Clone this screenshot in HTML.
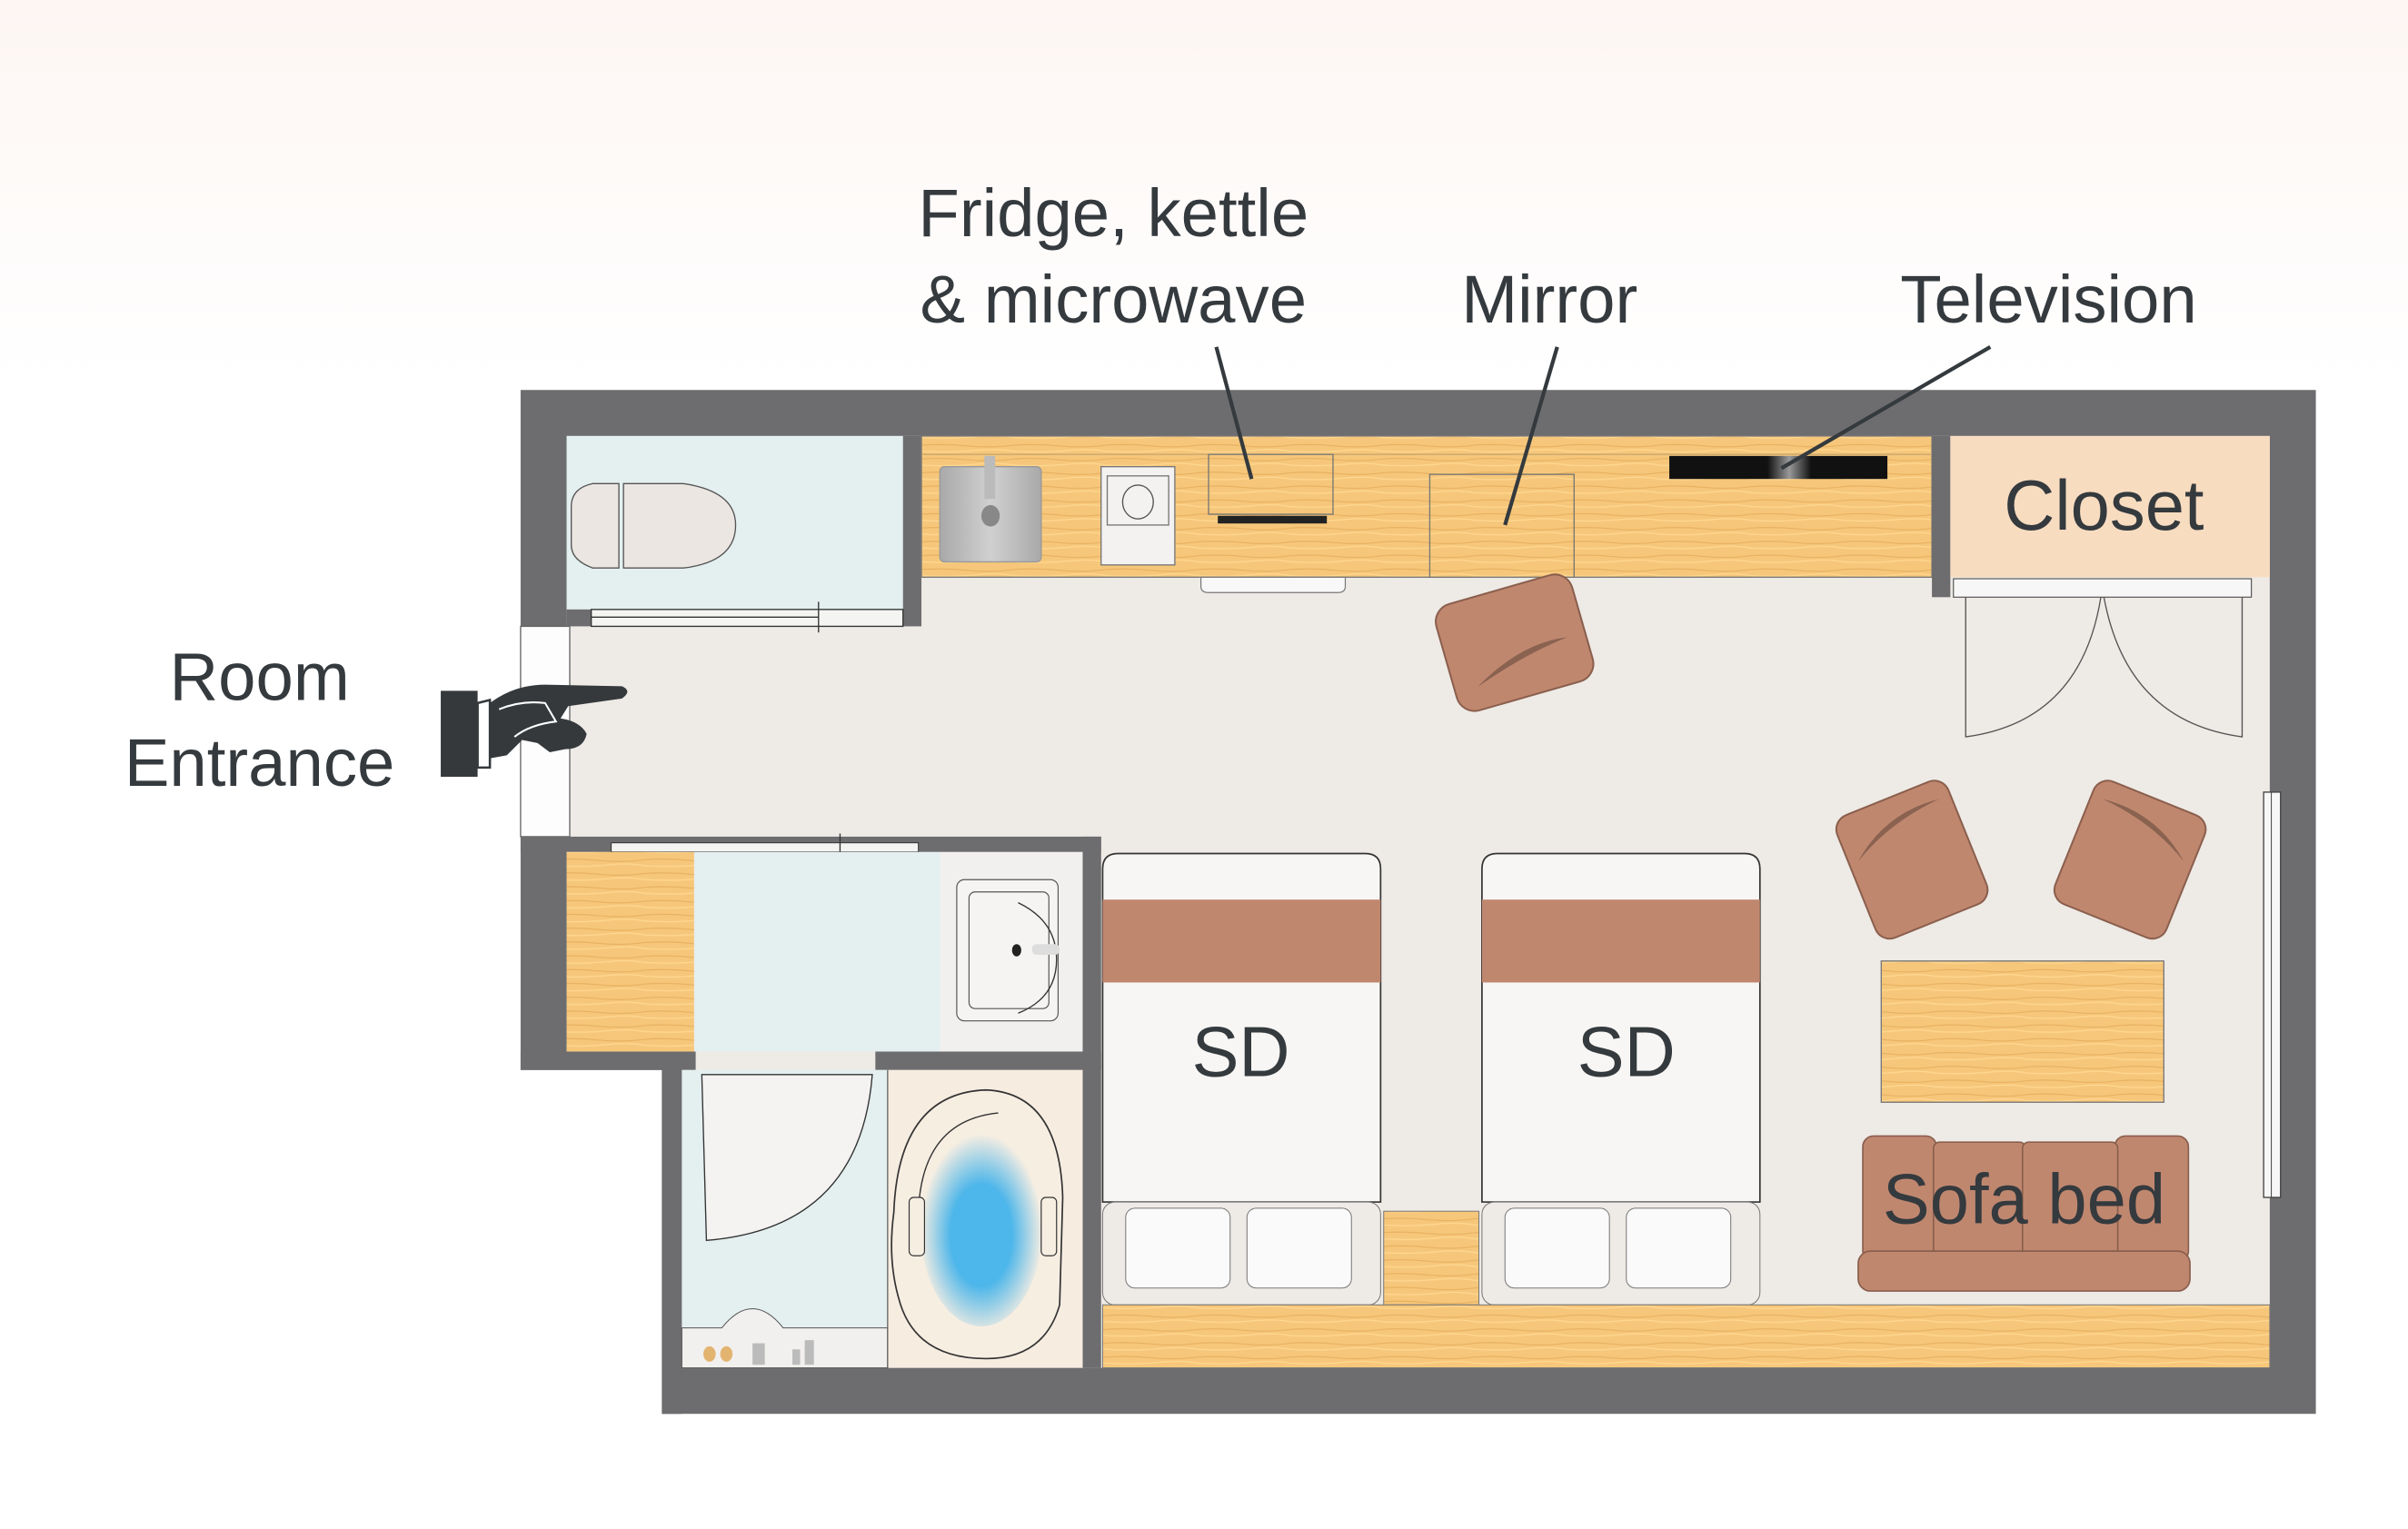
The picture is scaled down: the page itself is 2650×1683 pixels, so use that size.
<!DOCTYPE html>
<html><head><meta charset="utf-8"><style>
html,body{margin:0;padding:0;background:#fff;}
svg{display:block}
text{font-family:"Liberation Sans",sans-serif;fill:#343a3e}
</style></head><body>
<svg width="2650" height="1683" viewBox="0 0 1568 996" preserveAspectRatio="none" xmlns="http://www.w3.org/2000/svg">
<defs>
<linearGradient id="bg" x1="0" y1="0" x2="0" y2="1"><stop offset="0" stop-color="#fdf6f3"/><stop offset="0.25" stop-color="#ffffff"/><stop offset="1" stop-color="#ffffff"/></linearGradient>
<pattern id="wood" width="60" height="9" patternUnits="userSpaceOnUse">
<rect width="60" height="9" fill="#f6c77a"/>
<path d="M0 2 Q15 1 30 2.5 T60 2" stroke="#e8b060" stroke-width="0.7" fill="none"/>
<path d="M0 6 Q20 7 35 5.5 T60 6" stroke="#ffd791" stroke-width="0.8" fill="none"/>
</pattern>
<radialGradient id="water" cx="0.5" cy="0.55" r="0.5"><stop offset="0.5" stop-color="#4db6ea"/><stop offset="1" stop-color="#4db6ea" stop-opacity="0"/></radialGradient>
<linearGradient id="tv" x1="0" x2="1"><stop offset="0" stop-color="#111"/><stop offset="0.45" stop-color="#111"/><stop offset="0.55" stop-color="#999"/><stop offset="0.65" stop-color="#111"/><stop offset="1" stop-color="#111"/></linearGradient>
<linearGradient id="sink" x1="0" x2="1"><stop offset="0" stop-color="#a9a9a9"/><stop offset="0.5" stop-color="#d0d0d0"/><stop offset="1" stop-color="#a9a9a9"/></linearGradient>
</defs>
<rect width="1568" height="996" fill="url(#bg)"/>

<!-- walls -->
<path d="M339 254 H1508 V921 H431 V697 H339 Z" fill="#6d6d6f"/>
<!-- floor -->
<path d="M369 284 H1478 V891 H444 V685 H369 Z" fill="#eeeae6"/>
<!-- entrance gap -->
<rect x="339" y="408" width="32" height="137" fill="#fdfdfd" stroke="#666" stroke-width="0.8"/>

<!-- toilet room -->
<rect x="369" y="284" width="219" height="113" fill="#e4eff0"/>
<rect x="588" y="284" width="12" height="124" fill="#6d6d6f"/>
<rect x="369" y="397" width="16" height="11" fill="#6d6d6f"/>
<rect x="385" y="397" width="203" height="11" fill="#f4f4f2" stroke="#333" stroke-width="0.8"/>
<line x1="385" y1="402" x2="533" y2="402" stroke="#333" stroke-width="0.8"/>
<line x1="533" y1="392" x2="533" y2="412" stroke="#333" stroke-width="0.8"/>
<path d="M386 315 H403 V370 H386 Q372 365 372 355 V330 Q372 318 386 315Z" fill="#ece6e2" stroke="#555" stroke-width="0.8"/>
<path d="M406 315 H445 Q479 320 479 342 Q479 366 445 370 H406Z" fill="#ece6e2" stroke="#555" stroke-width="0.8"/>

<!-- kitchen counter -->
<rect x="600" y="284" width="658" height="92" fill="url(#wood)" stroke="#777" stroke-width="0.8"/>
<line x1="600" y1="296" x2="1258" y2="296" stroke="#b89a6a" stroke-width="0.6"/>
<rect x="612" y="304" width="66" height="62" rx="3" fill="url(#sink)" stroke="#999" stroke-width="0.8"/>
<rect x="641" y="297" width="7" height="28" fill="#bbb"/>
<ellipse cx="645" cy="336" rx="6" ry="7" fill="#888"/>
<rect x="717" y="304" width="48" height="64" fill="#f4f2f0" stroke="#777" stroke-width="0.8"/>
<rect x="721" y="310" width="40" height="32" fill="none" stroke="#777" stroke-width="0.8"/>
<ellipse cx="741" cy="327" rx="10" ry="11" fill="none" stroke="#555" stroke-width="0.8"/>
<rect x="787" y="296" width="81" height="39" fill="url(#wood)" stroke="#777" stroke-width="0.8"/>
<rect x="793" y="336" width="71" height="5" fill="#222"/>
<rect x="931" y="309" width="94" height="67" fill="url(#wood)" stroke="#777" stroke-width="0.8"/>
<rect x="1087" y="297" width="142" height="15" fill="url(#tv)"/>
<path d="M782 376 H876 V382 Q876 386 871 386 H787 Q782 386 782 382Z" fill="#f8f8f8" stroke="#777" stroke-width="0.7"/>

<!-- closet -->
<rect x="1258" y="284" width="12" height="105" fill="#6d6d6f"/>
<rect x="1270" y="284" width="208" height="92" fill="#f8dcc0"/>
<rect x="1272" y="377" width="194" height="12" fill="#f7f7f7" stroke="#555" stroke-width="0.7"/>
<path d="M1280 389 V480 Q1355 470 1368 389" fill="none" stroke="#555" stroke-width="0.8"/>
<path d="M1460 389 V480 Q1385 470 1370 389" fill="none" stroke="#555" stroke-width="0.8"/>
<text x="1370" y="345" font-size="46" text-anchor="middle">Closet</text>

<!-- desk chair -->
<g transform="rotate(-16 985 418)">
<rect x="940" y="383" width="92" height="72" rx="12" fill="#c0876f" stroke="#8a5f4d" stroke-width="1.2"/>
<path d="M955 440 Q990 420 1020 425 Q990 428 955 440Z" fill="#8a6250"/>
</g>

<!-- lower-left block -->
<rect x="339" y="545" width="378" height="10" fill="#6d6d6f"/>
<rect x="398" y="549" width="200" height="6" fill="#f4f4f2" stroke="#333" stroke-width="0.6"/>
<line x1="547" y1="543" x2="547" y2="560" stroke="#333" stroke-width="0.8"/>
<rect x="369" y="555" width="83" height="130" fill="url(#wood)"/>
<rect x="452" y="555" width="160" height="130" fill="#e4eff0"/>
<rect x="612" y="555" width="93" height="130" fill="#f1f0ee"/>
<rect x="623" y="573" width="66" height="92" rx="5" fill="#f5f4f2" stroke="#555" stroke-width="0.7"/>
<rect x="631" y="581" width="52" height="76" rx="4" fill="none" stroke="#555" stroke-width="0.7"/>
<path d="M663 588 Q688 600 688 625 Q688 650 663 660" fill="none" stroke="#333" stroke-width="0.8"/>
<ellipse cx="662" cy="619" rx="3" ry="4" fill="#222"/>
<rect x="672" y="615" width="18" height="7" rx="3" fill="#ddd"/>
<rect x="339" y="685" width="114" height="12" fill="#6d6d6f"/>
<rect x="570" y="685" width="147" height="12" fill="#6d6d6f"/>
<rect x="705" y="545" width="12" height="346" fill="#6d6d6f"/>
<rect x="431" y="697" width="13" height="224" fill="#6d6d6f"/>
<!-- shower -->
<rect x="444" y="697" width="134" height="194" fill="#e4eff0"/>
<path d="M457 700 L460 808 Q560 800 568 700Z" fill="#f4f3f1" stroke="#333" stroke-width="0.8"/>
<path d="M444 865 H470 Q490 840 510 865 H578 V891 H444Z" fill="#f1f0ee" stroke="#555" stroke-width="0.6"/>
<ellipse cx="462" cy="882" rx="4" ry="5" fill="#e3b370"/><ellipse cx="473" cy="882" rx="4" ry="5" fill="#e3b370"/>
<rect x="490" y="875" width="8" height="14" fill="#bbb"/><rect x="516" y="879" width="5" height="10" fill="#bbb"/><rect x="524" y="873" width="6" height="16" fill="#bbb"/>
<!-- tub -->
<rect x="578" y="697" width="127" height="194" fill="#f6ece0"/>
<line x1="578" y1="697" x2="578" y2="891" stroke="#555" stroke-width="0.7"/>
<path d="M642 710 Q690 712 692 780 L690 850 Q680 885 642 885 Q595 885 585 845 Q578 820 582 790 Q585 712 642 710Z" fill="#f7eee2" stroke="#333" stroke-width="1"/>
<path d="M598 790 Q600 730 650 725" fill="none" stroke="#333" stroke-width="0.8"/>
<ellipse cx="639" cy="798" rx="40" ry="66" fill="url(#water)"/>
<rect x="592" y="780" width="10" height="38" rx="3" fill="#f7eee2" stroke="#333" stroke-width="0.7"/>
<rect x="678" y="780" width="10" height="38" rx="3" fill="#f7eee2" stroke="#333" stroke-width="0.7"/>

<!-- beds -->
<g>
<path d="M718 783 V566 Q718 556 728 556 H889 Q899 556 899 566 V783Z" fill="#f8f6f4" stroke="#333" stroke-width="1"/>
<rect x="718" y="586" width="181" height="54" fill="#c0876f"/>
<rect x="718" y="783" width="181" height="67" rx="8" fill="#eeeae6" stroke="#777" stroke-width="0.6"/>
<rect x="733" y="787" width="68" height="52" rx="6" fill="#fafafa" stroke="#777" stroke-width="0.6"/>
<rect x="812" y="787" width="68" height="52" rx="6" fill="#fafafa" stroke="#777" stroke-width="0.6"/>
<text x="808" y="701" font-size="46" text-anchor="middle">SD</text>
</g>
<g>
<path d="M965 783 V566 Q965 556 975 556 H1136 Q1146 556 1146 566 V783Z" fill="#f8f6f4" stroke="#333" stroke-width="1"/>
<rect x="965" y="586" width="181" height="54" fill="#c0876f"/>
<rect x="965" y="783" width="181" height="67" rx="8" fill="#eeeae6" stroke="#777" stroke-width="0.6"/>
<rect x="980" y="787" width="68" height="52" rx="6" fill="#fafafa" stroke="#777" stroke-width="0.6"/>
<rect x="1059" y="787" width="68" height="52" rx="6" fill="#fafafa" stroke="#777" stroke-width="0.6"/>
<text x="1059" y="701" font-size="46" text-anchor="middle">SD</text>
</g>
<rect x="901" y="789" width="62" height="61" fill="url(#wood)" stroke="#777" stroke-width="0.6"/>
<rect x="718" y="850" width="760" height="41" fill="url(#wood)" stroke="#777" stroke-width="0.6"/>

<!-- window -->
<rect x="1474" y="516" width="11" height="264" fill="#f7f7f7" stroke="#444" stroke-width="0.8"/>
<line x1="1479" y1="516" x2="1479" y2="780" stroke="#444" stroke-width="0.6"/>

<!-- armchairs -->
<g transform="rotate(-22 1245 560)">
<rect x="1206" y="517" width="78" height="86" rx="10" fill="#c0876f" stroke="#8a5f4d" stroke-width="1.2"/>
<path d="M1212 548 Q1240 525 1276 530 Q1240 532 1212 548Z" fill="#8a6250"/>
</g>
<g transform="rotate(22 1387 560)">
<rect x="1348" y="517" width="78" height="86" rx="10" fill="#c0876f" stroke="#8a5f4d" stroke-width="1.2"/>
<path d="M1356 530 Q1392 525 1420 548 Q1392 532 1356 530Z" fill="#8a6250"/>
</g>
<!-- table -->
<rect x="1225" y="626" width="184" height="92" fill="url(#wood)" stroke="#777" stroke-width="0.8"/>
<!-- sofa -->
<g fill="#c0876f" stroke="#8a5f4d" stroke-width="1">
<rect x="1213" y="740" width="48" height="82" rx="7"/>
<rect x="1377" y="740" width="48" height="82" rx="7"/>
<rect x="1259" y="744" width="60" height="78" rx="4"/>
<rect x="1317" y="744" width="62" height="78" rx="4"/>
<rect x="1210" y="815" width="216" height="26" rx="8"/>
</g>
<text x="1318" y="797" font-size="46" text-anchor="middle">Sofa bed</text>

<!-- labels -->
<text x="725" y="154" font-size="44" text-anchor="middle">Fridge, kettle</text>
<text x="725" y="210" font-size="44" text-anchor="middle">&amp; microwave</text>
<text x="1009" y="210" font-size="44" text-anchor="middle">Mirror</text>
<text x="1334" y="210" font-size="44" text-anchor="middle">Television</text>
<text x="169" y="456" font-size="44" text-anchor="middle">Room</text>
<text x="169" y="512" font-size="44" text-anchor="middle">Entrance</text>
<g stroke="#343a3e" stroke-width="2.5">
<line x1="792" y1="226" x2="815" y2="312"/>
<line x1="1014" y1="226" x2="980" y2="342"/>
<line x1="1296" y1="226" x2="1160" y2="305"/>
</g>

<!-- hand -->
<rect x="287" y="450" width="24" height="56" fill="#35393c"/>
<path d="M311 458 L319 456 L319 500 L311 500Z" fill="#fff" stroke="#35393c" stroke-width="1.5"/>
<path d="M319 458 Q335 446 355 446 L405 447 Q412 450 405 455 L370 460 L365 468 Q378 470 382 478 Q380 488 368 488 L358 490 L350 484 L340 482 L330 492 L319 494Z" fill="#35393c"/>
<path d="M325 462 Q340 456 355 458 L362 470 Q345 472 335 480" fill="none" stroke="#fff" stroke-width="1.2"/>
</svg>
</body></html>
